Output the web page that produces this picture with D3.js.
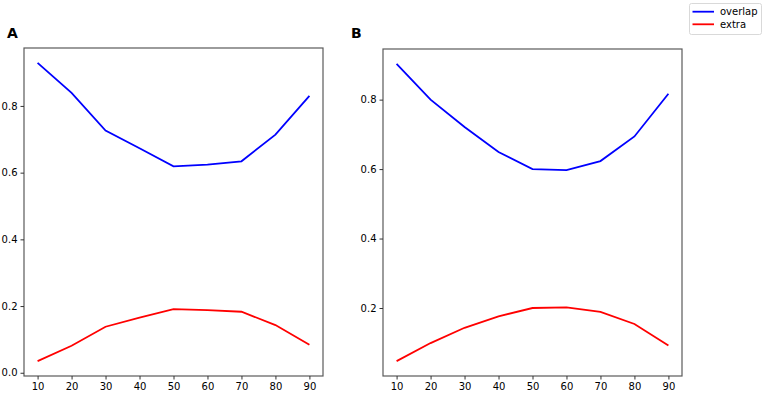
<!DOCTYPE html>
<style>
body { margin: 0; background: #fff; }
text { font-family: "DejaVu Sans", sans-serif; }
</style>
<svg width="765" height="393" id="chart"></svg>
<script src="https://d3js.org/d3.v7.min.js"></script>
<script>
var xs = [10, 20, 30, 40, 50, 60, 70, 80, 90];
var xTicks = [10, 20, 30, 40, 50, 60, 70, 80, 90];
var overlapA = [0.929, 0.839, 0.726, 0.673, 0.619, 0.624, 0.634, 0.714, 0.830];
var extraA   = [0.035, 0.081, 0.138, 0.165, 0.191, 0.188, 0.183, 0.143, 0.084];
var overlapB = [0.903, 0.800, 0.721, 0.649, 0.600, 0.597, 0.623, 0.694, 0.817];
var extraB   = [0.047, 0.099, 0.143, 0.176, 0.200, 0.202, 0.189, 0.154, 0.092];
var yTicksA = [0.0, 0.2, 0.4, 0.6, 0.8];
var yTicksB = [0.2, 0.4, 0.6, 0.8];
var seriesNames = ["overlap", "extra"];
var colors = {overlap: "#0000ff", extra: "#ff0000"};

var svg = d3.select("#chart");

function panel(label, labelX, left, right, top, bottom, overlap, extra, yTicks) {
  var g = svg.append("g");
  // matplotlib-style 5% margins
  var x = d3.scaleLinear().domain([6, 94]).range([left, right]);
  var all = overlap.concat(extra);
  var lo = d3.min(all), hi = d3.max(all), pad = (hi - lo) * 0.05;
  var y = d3.scaleLinear().domain([lo - pad, hi + pad]).range([bottom, top]);

  var line = d3.line()
      .x(function(d, i) { return x(xs[i]); })
      .y(function(d) { return y(d); });

  [["overlap", overlap], ["extra", extra]].forEach(function(s) {
    g.append("path")
      .datum(s[1])
      .attr("d", line)
      .attr("fill", "none")
      .attr("stroke", colors[s[0]])
      .attr("stroke-width", 1.8);
  });

  g.append("rect")
    .attr("x", left).attr("y", top)
    .attr("width", right - left).attr("height", bottom - top)
    .attr("fill", "none").attr("stroke", "#5a5a5a").attr("stroke-width", 1.2);

  var xa = g.append("g")
      .attr("transform", "translate(0," + bottom + ")")
      .call(d3.axisBottom(x).tickValues(xTicks).tickSize(3.5).tickPadding(3).tickFormat(d3.format("d")));
  var ya = g.append("g")
      .attr("transform", "translate(" + left + ",0)")
      .call(d3.axisLeft(y).tickValues(yTicks).tickSize(3.5).tickPadding(3).tickFormat(d3.format(".1f")));
  [xa, ya].forEach(function(a) {
    a.select(".domain").remove();
    a.selectAll("line").attr("stroke", "#333");
    a.selectAll("text").attr("font-size", 10).attr("fill", "#000")
      .attr("font-family", "DejaVu Sans, sans-serif");
  });

  svg.append("text")
    .attr("x", labelX).attr("y", 38)
    .attr("font-size", 14).attr("font-weight", "bold")
    .attr("font-family", "Liberation Sans, Arial, sans-serif")
    .text(label);
}

panel("A", 7, 24, 323, 48, 376, overlapA, extraA, yTicksA);
panel("B", 351, 383, 682, 49, 376, overlapB, extraB, yTicksB);

// legend
var lg = svg.append("g");
lg.append("rect")
  .attr("x", 689.5).attr("y", 3.5).attr("width", 72).attr("height", 31).attr("rx", 2)
  .attr("fill", "#fff").attr("stroke", "#d9d9d9");
var items = lg.selectAll("g.item").data(seriesNames).enter().append("g")
  .attr("transform", function(d, i) { return "translate(0," + (11.7 + i * 12.6) + ")"; });
items.append("line")
  .attr("x1", 692.5).attr("x2", 714).attr("stroke", function(d) { return colors[d]; })
  .attr("stroke-width", 1.8);
items.append("text")
  .attr("x", 720).attr("dy", "0.35em")
  .attr("font-size", 10)
  .attr("font-family", "DejaVu Sans, sans-serif")
  .text(function(d) { return d; });
</script>
